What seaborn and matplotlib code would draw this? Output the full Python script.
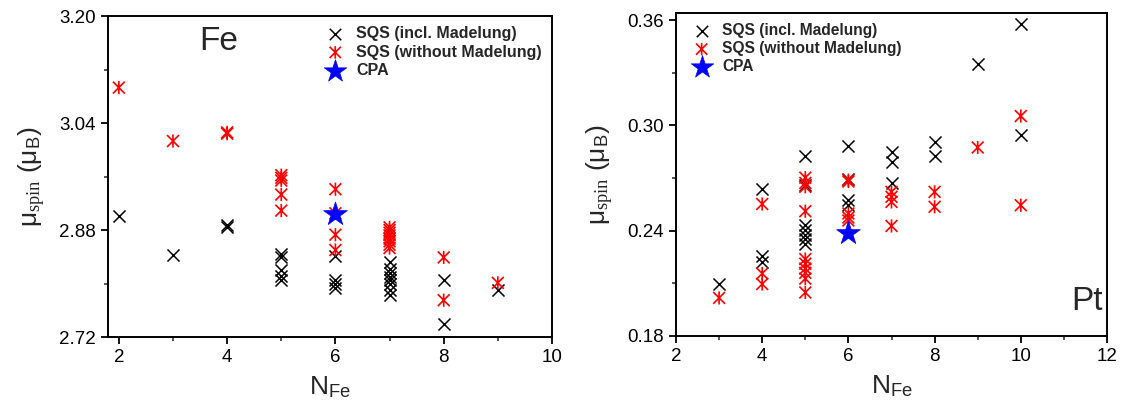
import numpy as np
import pandas as pd
import matplotlib
matplotlib.use("Agg")
import matplotlib.pyplot as plt
from matplotlib.path import Path
from matplotlib.ticker import MultipleLocator, FormatStrFormatter
import seaborn as sns

# ---- Fe moments -------------------------------------------------------------
fe_incl_n = [2, 3, 4, 4, 5, 5, 5, 5, 5, 6, 6, 6, 6,
             7, 7, 7, 7, 7, 7, 7, 7, 8, 8, 9]
fe_incl_mu = [2.901, 2.843, 2.887, 2.885,
              2.844, 2.839, 2.820, 2.811, 2.805,
              2.841, 2.805, 2.800, 2.794,
              2.832, 2.822, 2.815, 2.810, 2.805, 2.800, 2.790, 2.783,
              2.805, 2.740, 2.791]

fe_noMad_n = [2, 3, 4, 4, 5, 5, 5, 5, 5, 6, 6, 6, 6,
              7, 7, 7, 7, 7, 7, 7, 7, 8, 8, 9]
fe_noMad_mu = [3.093, 3.013, 3.026, 3.024,
               2.962, 2.958, 2.954, 2.933, 2.909,
               2.941, 2.905, 2.873, 2.850,
               2.884, 2.880, 2.876, 2.872, 2.867, 2.863, 2.858, 2.853,
               2.839, 2.775, 2.801]

fe_cpa_n = [6]
fe_cpa_mu = [2.904]

# ---- Pt moments -------------------------------------------------------------
pt_incl_n = [3, 4, 4, 4, 5, 5, 5, 5, 5, 5, 5, 6, 6, 6, 6,
             7, 7, 7, 8, 8, 9, 10, 10]
pt_incl_mu = [0.2098, 0.2635, 0.2255, 0.2222,
              0.2826, 0.2659, 0.2431, 0.2403, 0.2374, 0.2350, 0.2325,
              0.2883, 0.2695, 0.2574, 0.2545,
              0.2849, 0.2792, 0.2672, 0.2906, 0.2826,
              0.3347, 0.3577, 0.2944]

pt_noMad_n = [3, 4, 4, 4, 5, 5, 5, 5, 5, 5, 5, 5, 5, 5,
              6, 6, 6, 6, 6, 7, 7, 7, 7, 8, 8, 9, 10, 10]
pt_noMad_mu = [0.2017, 0.2552, 0.2156, 0.2096,
               0.2702, 0.2672, 0.2650, 0.2511, 0.2238, 0.2212, 0.2184,
               0.2160, 0.2127, 0.2048,
               0.2688, 0.2680, 0.2498, 0.2475, 0.2458,
               0.2621, 0.2593, 0.2564, 0.2427,
               0.2621, 0.2536, 0.2874, 0.3053, 0.2545]

pt_cpa_n = [6]
pt_cpa_mu = [0.2384]

labels = ["SQS (incl. Madelung)", "SQS (without Madelung)", "CPA"]

sns.set_theme(style="ticks")
plt.rcParams["font.family"] = ["Liberation Sans", "DejaVu Sans"]
plt.rcParams["mathtext.fontset"] = "custom"
plt.rcParams["mathtext.rm"] = "Liberation Serif"
plt.rcParams["mathtext.it"] = "Liberation Serif:italic"
plt.rcParams["mathtext.sf"] = "Liberation Sans"

# asterisk: vertical bar plus two diagonals reaching the corners
d = 0.9
asterisk = Path([(0, -1), (0, 1), (-d, -d), (d, d), (-d, d), (d, -d)],
                [Path.MOVETO, Path.LINETO, Path.MOVETO, Path.LINETO,
                 Path.MOVETO, Path.LINETO])

fig = plt.figure(figsize=(11.41, 4.07), dpi=100)
ax1 = fig.add_axes([108 / 1141, 1 - 337 / 407, 444 / 1141, 321 / 407])
ax2 = fig.add_axes([676 / 1141, 1 - 336 / 407, 431 / 1141, 323 / 407])


def draw_panel(ax, n1, m1, n2, m2, n3, m3):
    d1 = pd.DataFrame({"n": n1, "mu": m1})
    d2 = pd.DataFrame({"n": n2, "mu": m2})
    d3 = pd.DataFrame({"n": n3, "mu": m3})
    sns.scatterplot(data=d1, x="n", y="mu", ax=ax, marker="x", color="black",
                    s=75, linewidth=1.1, label=labels[0], zorder=3)
    sns.scatterplot(data=d2, x="n", y="mu", ax=ax, marker=asterisk,
                    facecolor="none", edgecolor="red", s=90, linewidth=1.2,
                    label=labels[1], zorder=3)
    sns.scatterplot(data=d3, x="n", y="mu", ax=ax, marker="*", color="blue",
                    edgecolor="blue", s=320, linewidth=0.5, label=labels[2],
                    zorder=4)


draw_panel(ax1, fe_incl_n, fe_incl_mu, fe_noMad_n, fe_noMad_mu,
           fe_cpa_n, fe_cpa_mu)
draw_panel(ax2, pt_incl_n, pt_incl_mu, pt_noMad_n, pt_noMad_mu,
           pt_cpa_n, pt_cpa_mu)

ax1.set_xlim(1.8, 10)
ax1.set_ylim(2.72, 3.20)
ax1.xaxis.set_major_locator(MultipleLocator(2))
ax1.xaxis.set_minor_locator(MultipleLocator(1))
ax1.yaxis.set_major_locator(MultipleLocator(0.16))
ax1.yaxis.set_minor_locator(MultipleLocator(0.08))
ax1.yaxis.set_major_formatter(FormatStrFormatter("%.2f"))

ax2.set_xlim(2, 12)
ax2.set_ylim(0.18, 0.364)
ax2.xaxis.set_major_locator(MultipleLocator(2))
ax2.xaxis.set_minor_locator(MultipleLocator(1))
ax2.set_yticks([0.18, 0.24, 0.30, 0.36])
ax2.yaxis.set_minor_locator(MultipleLocator(0.03))
ax2.yaxis.set_major_formatter(FormatStrFormatter("%.2f"))

ylab = r"μ$_{\mathrm{spin}}$ (μ$_{\mathsf{B}}$)"
for ax in (ax1, ax2):
    for sp in ax.spines.values():
        sp.set_linewidth(1.4)
        sp.set_color("black")
    ax.tick_params(which="major", direction="out", length=5, width=1.3,
                   labelsize=13.5, colors="black", top=False, right=False)
    ax.tick_params(which="minor", direction="out", length=3, width=1.1,
                   top=False, right=False)
    ax.set_xlabel(r"N$_{\mathsf{Fe}}$", fontsize=19, labelpad=6)
    ax.set_ylabel(ylab, fontsize=19, labelpad=8)

ax1.legend(loc="upper right", bbox_to_anchor=(1.0, 1.0), frameon=False,
           prop={"weight": "bold", "size": 11.5}, handletextpad=0.3,
           labelspacing=0.2, borderaxespad=0.25, markerscale=0.95)
ax2.legend(loc="upper left", bbox_to_anchor=(0.0, 1.0), frameon=False,
           prop={"weight": "bold", "size": 11.2}, handletextpad=0.3,
           labelspacing=0.2, borderaxespad=0.25, markerscale=0.95)

ax1.text(0.25, 0.922, "Fe", transform=ax1.transAxes, fontsize=24,
         ha="center", va="center")
ax2.text(0.954, 0.108, "Pt", transform=ax2.transAxes, fontsize=24,
         ha="center", va="center")

fig.savefig("out.png", dpi=100)
